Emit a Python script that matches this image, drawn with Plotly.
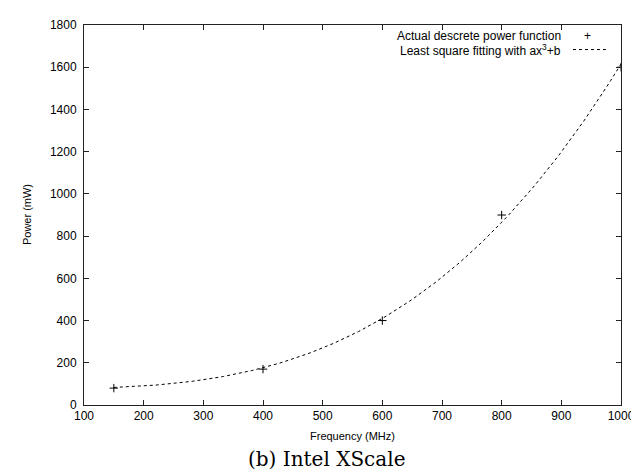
import numpy as np
import plotly.graph_objects as go

# Data
freq_mhz = [150, 400, 600, 800, 1000]
power_mw = [80, 170, 400, 900, 1600]

x_ticks = [100, 200, 300, 400, 500, 600, 700, 800, 900, 1000]
y_ticks = [0, 200, 400, 600, 800, 1000, 1200, 1400, 1600, 1800]

legend_points = "Actual descrete power function"
legend_fit = "Least square fitting with ax<sup>3</sup>+b"

# least square fit of power = a*f^3 + b
f = np.array(freq_mhz, dtype=float)
p = np.array(power_mw, dtype=float)
A = np.vstack([f ** 3, np.ones_like(f)]).T
(a, b), *_ = np.linalg.lstsq(A, p, rcond=None)
fit_x = np.linspace(min(freq_mhz), max(freq_mhz), 200)
fit_y = a * fit_x ** 3 + b

fig = go.Figure()
fig.add_trace(go.Scatter(x=fit_x, y=fit_y, mode="lines",
                         line=dict(color="black", width=1, dash="3px,3px"),
                         showlegend=False, hoverinfo="skip"))
fig.add_trace(go.Scatter(x=freq_mhz, y=power_mw, mode="markers",
                         marker=dict(symbol="cross-thin", size=6,
                                     line=dict(color="black", width=1)),
                         showlegend=False))

axis_common = dict(showline=True, linecolor="#222", linewidth=1, mirror="ticks",
                   ticks="inside", ticklen=5, tickcolor="#222", tickwidth=1,
                   showgrid=False, zeroline=False,
                   tickfont=dict(family="Liberation Sans", size=12, color="black"))

fig.update_xaxes(range=[100, 1000], tickvals=x_ticks, **axis_common)
fig.update_yaxes(range=[0, 1800], tickvals=y_ticks, ticklabelstandoff=4, **axis_common)

font_s = dict(family="Liberation Sans", size=12, color="black")
ann = [
    dict(text=legend_points, x=0.892, y=0.9716, xanchor="right", yanchor="middle", font=font_s),
    dict(text=legend_fit, x=0.892, y=0.9354, xanchor="right", yanchor="middle", font=font_s),
    dict(text="+", x=0.9385, y=0.9716, xanchor="center", yanchor="middle", font=font_s),
    dict(text="Frequency (MHz)", x=0.5, y=-0.0827, xanchor="center", yanchor="middle",
         font=dict(family="Liberation Sans", size=11, color="black")),
    dict(text="Power (mW)", x=-0.106, y=0.5, xanchor="center", yanchor="middle", textangle=-90,
         font=dict(family="Liberation Sans", size=11, color="black")),
    dict(text="(b) Intel XScale", x=0.4525, y=-0.142, xanchor="center", yanchor="middle",
         font=dict(family="DejaVu Serif", size=20, color="black")),
]
for a_ in ann:
    a_.update(xref="paper", yref="paper", showarrow=False)

fig.update_layout(
    width=639, height=472,
    margin=dict(l=76, r=26, t=10, b=75),
    plot_bgcolor="white", paper_bgcolor="white",
    annotations=ann,
    shapes=[dict(type="line", xref="paper", yref="paper", x0=0.9106, x1=0.972,
                 y0=0.9354, y1=0.9354, line=dict(color="black", width=1, dash="3px,3px"))],
    showlegend=False,
)

fig.write_html("out.html")
